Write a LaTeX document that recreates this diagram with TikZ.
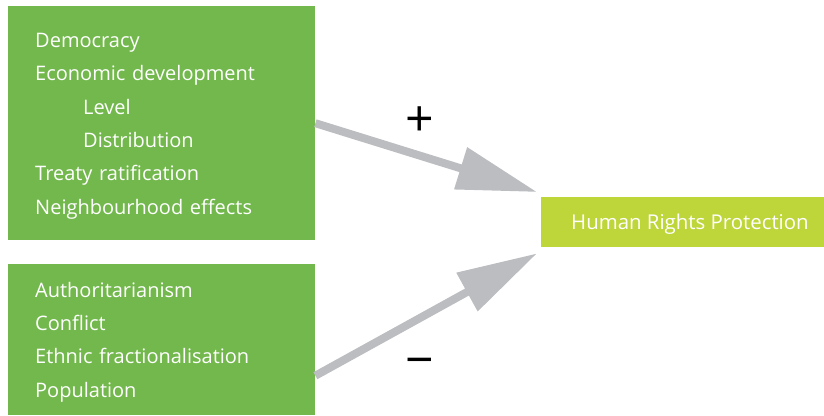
\documentclass[tikz,border=0pt]{standalone}
\usepackage{fontspec}
\setmainfont{Open Sans}
\usepackage{tikz}
\usetikzlibrary{
	positioning,    % Per posizionare i nodi
	arrows.meta,    % Per la punta Triangle
	calc            % Per calcolare le coordinate
}

\definecolor{verdeScuro}{HTML}{72B84C}
\definecolor{verdeLime}{HTML}{BED63A}
\definecolor{grigioFreccia}{HTML}{BCBDC0}

\begin{document}
\begin{tikzpicture}[
		x=1pt, y=-1pt,
		box/.style={fill=verdeScuro, text=white, anchor=north west, align=left,
			inner xsep=27pt, inner ysep=0pt, text width=253pt,
			font=\fontsize{20}{33.3}\selectfont},
		target/.style={fill=verdeLime, text=white, anchor=north west,
			inner xsep=15pt, inner ysep=0pt, minimum height=50pt, text depth=0pt,
			font=\fontsize{20.4}{22}\selectfont},
		freccia/.style={draw=grigioFreccia, line width=8pt,
			-{Triangle[length=80pt, width=42pt]}},
		segno/.style={font=\fontsize{50}{50}\selectfont, inner sep=0pt}
	]
	
	% --- Area del disegno ---
	\useasboundingbox (0,0) rectangle (824,415);
	
	% --- Fattori positivi (in alto) ---
	\node[box, minimum height=234pt] (pos) at (8,6) {
		\rule{0pt}{20pt}Democracy\\
		Economic development\\
		\hspace*{48pt}Level\\
		\hspace*{48pt}Distribution\\
		Treaty ratification\\
		Neighbourhood effects};
	
	% --- Fattori negativi (in basso) ---
	\node[box, minimum height=151pt] (neg) at (8,264) {
		\rule{0pt}{20pt}Authoritarianism\\
		Conflict\\
		Ethnic fractionalisation\\
		Population};
	
	% --- Risultato (a destra) ---
	\node[target] (hrp) at (541,197) {\makebox[253pt][l]{\hspace{15pt}Human Rights Protection}};
	
	% --- Frecce ---
	\coordinate (punta1) at ($(hrp.north west)+(-4,-5)$);
	\coordinate (punta2) at ($(hrp.south west)+(-4,6)$);
	\coordinate (coda2) at ($(neg.east)+(0,36)$);
	\draw[freccia] (pos.east) -- (punta1);
	\draw[freccia] (coda2) -- (punta2);
	
	% --- Segni ---
	\node[segno] (piu) at (420,122) {+};
	\node[segno] (meno) at (420,368) {−};
\end{tikzpicture}
\end{document}
